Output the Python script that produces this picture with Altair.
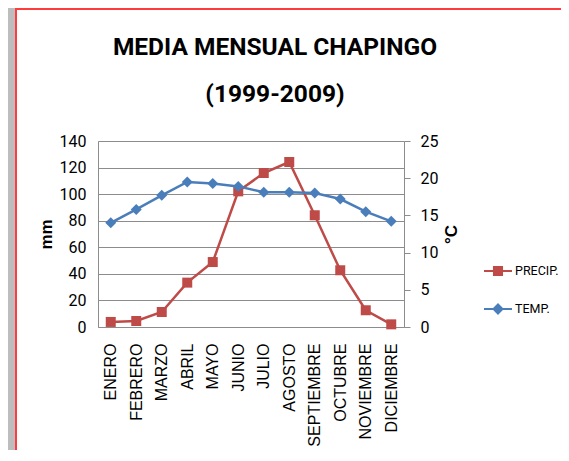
import altair as alt
import pandas as pd

months = ["ENERO", "FEBRERO", "MARZO", "ABRIL", "MAYO", "JUNIO", "JULIO",
          "AGOSTO", "SEPTIEMBRE", "OCTUBRE", "NOVIEMBRE", "DICIEMBRE"]
precip_mm = [3.8, 4.5, 11.3, 33.4, 48.9, 102.1, 115.9, 124.2, 84.1, 42.7, 12.6, 2.0]
temp_c = [14.0, 15.8, 17.7, 19.5, 19.3, 18.9, 18.1, 18.1, 18.0, 17.2, 15.5, 14.2]
series_names = ["PRECIP.", "TEMP."]
left_ticks = [0, 20, 40, 60, 80, 100, 120, 140]
right_ticks = [0, 5, 10, 15, 20, 25]
title_lines = ["MEDIA MENSUAL CHAPINGO", "(1999-2009)"]

RED = "#BE4B48"
BLUE = "#4A7EBB"
GRAY = "#8C8C8C"
FRAME = "#FF3B3B"
NARROW = "Roboto, sans-serif"
SANS = "Liberation Sans, Arial, sans-serif"

df = pd.DataFrame({"mes": months, "precip": precip_mm, "temp": temp_c})

x_enc = alt.X("mes:N", sort=months,
              scale=alt.Scale(type="point", padding=0.5),
              axis=alt.Axis(title=None, labelAngle=270, labelFont=SANS,
                            labelFontSize=16, labelColor="black", ticks=False,
                            labelPadding=16, domainColor=GRAY, domainWidth=1,
                            grid=False))

y_p = alt.Y("precip:Q", scale=alt.Scale(domain=[0, 140]),
            axis=alt.Axis(title="mm", values=left_ticks, orient="left", grid=True,
                          gridColor=GRAY, gridWidth=1, domainColor=GRAY, ticks=False,
                          labelPadding=12, labelFont=NARROW, labelFontSize=16,
                          labelColor="black", titleFont=SANS, titleFontWeight="bold",
                          titleFontSize=17, titleColor="black", titleAngle=270,
                          titlePadding=4))

y_t = alt.Y("temp:Q", scale=alt.Scale(domain=[0, 25]),
            axis=alt.Axis(title="°C", values=right_ticks, orient="right", grid=False,
                          domainColor=GRAY, ticks=True, tickColor=GRAY, tickSize=6,
                          labelPadding=10, labelFont=NARROW, labelFontSize=16,
                          labelColor="black", titleFont=SANS, titleFontWeight="bold",
                          titleFontSize=17, titleColor="black", titleAngle=270,
                          titleBaseline="top", titlePadding=6))

base = alt.Chart(df)
precip = alt.layer(
    base.mark_line(color=RED, strokeWidth=2.5).encode(x=x_enc, y=y_p),
    base.mark_point(shape="square", filled=True, size=100, color=RED, opacity=1).encode(x=x_enc, y=y_p),
)
temp = alt.layer(
    base.mark_line(color=BLUE, strokeWidth=2.5).encode(x=x_enc, y=y_t),
    base.mark_point(shape="diamond", filled=True, size=120, color=BLUE, opacity=1).encode(x=x_enc, y=y_t),
)

sq_path = "M-1,-0.065H1V0.065H-1Z M-0.36,-0.36H0.36V0.36H-0.36Z"
di_path = "M-1,-0.065H1V0.065H-1Z M0,-0.42L0.42,0L0,0.42L-0.42,0Z"

legend_opts = dict(title=None, orient="none", legendX=386, legendY=116,
                   symbolSize=784, labelOffset=3, rowPadding=17,
                   padding=0, labelFont=NARROW, labelFontSize=12.5,
                   labelColor="black", symbolStrokeWidth=0)
legend_df = pd.DataFrame({"serie": series_names})
legend_layer = alt.Chart(legend_df).mark_point(filled=True, opacity=1).encode(
    color=alt.Color("serie:N", scale=alt.Scale(domain=series_names, range=[RED, BLUE]),
                    legend=alt.Legend(**legend_opts)),
    shape=alt.Shape("serie:N", scale=alt.Scale(domain=series_names, range=[sq_path, di_path]),
                    legend=alt.Legend(**legend_opts)),
).transform_filter("false")

# decorative frame of the original screenshot (left shadow strip and red border)
deco_df = pd.DataFrame({"k": [0]})
shadow = alt.Chart(deco_df).mark_rect(fill="#BDBDBD").encode(
    x=alt.value(-90), x2=alt.value(-83), y=alt.value(-133), y2=alt.value(309))
frame_left = alt.Chart(deco_df).mark_rule(color=FRAME, strokeWidth=2).encode(
    x=alt.value(-82), y=alt.value(-132), y2=alt.value(309))
frame_top = alt.Chart(deco_df).mark_rule(color=FRAME, strokeWidth=2).encode(
    x=alt.value(-83), x2=alt.value(463), y=alt.value(-132))

chart = alt.layer(shadow, frame_left, frame_top, precip, temp, legend_layer).resolve_scale(
    y="independent").properties(
    width=306, height=186,
    autosize=alt.AutoSizeParams(type="none"),
    padding={"left": 90, "top": 133, "right": 157, "bottom": 123},
    title=alt.TitleParams(title_lines, font=NARROW, fontSize=24.5, fontWeight="bold",
                          color="black", anchor="middle", dx=24, offset=-99,
                          lineHeight=47),
).configure_view(stroke=None).configure(background="white")

chart.save("out.html", embed_options={"renderer": "svg", "actions": False})
